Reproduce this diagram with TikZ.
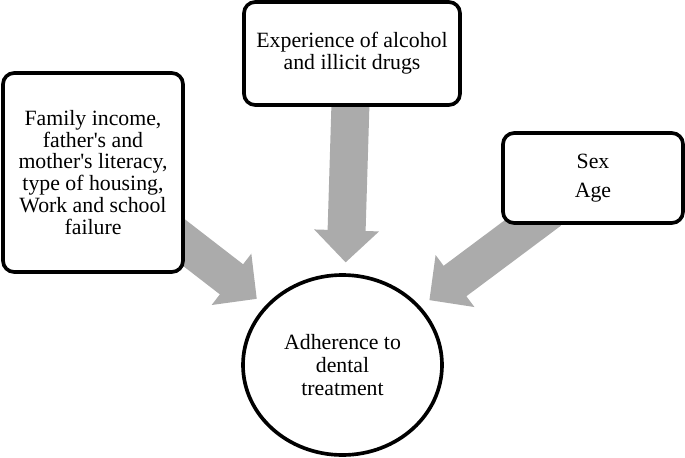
\documentclass[tikz,border=0pt]{standalone}
\usepackage{fontspec}
\setmainfont{Liberation Serif}
\usetikzlibrary{arrows.meta,shapes.geometric,backgrounds}
\definecolor{arrowgray}{RGB}{171,171,171}
\begin{document}
\begin{tikzpicture}[
  factor/.style={draw,rectangle,rounded corners=0.28cm,line width=2.6pt,fill=white,align=center,font=\fontsize{15.5}{15.6}\selectfont},
  outcome/.style={draw,ellipse,line width=2.6pt,fill=white,align=center,inner sep=0pt,font=\fontsize{15.5}{16.6}\selectfont},
  bigarrow/.style={draw=arrowgray,line width=0.95cm,-{Triangle[width=1.575cm,length=0.8cm]},shorten <=-0.6cm,shorten >=0.27cm}]
\useasboundingbox (0,0) rectangle (17.125,11.425);
\node[factor,minimum width=4.5cm,minimum height=4.975cm] (FAM) at (2.325,7.1125) {Family income,\\father\textquotesingle s and\\mother\textquotesingle s literacy,\\type of housing,\\Work and school\\failure};
\node[factor,minimum width=5.4cm,minimum height=2.575cm] (DRUG) at (8.8,10.0875) {Experience of alcohol\\and illicit drugs};
\node[factor,minimum width=4.5cm,minimum height=2.25cm] (SEX) at (14.825,6.975) {Sex\\[5pt]Age};
\node[outcome,minimum width=4.975cm,minimum height=4.5cm] (ADH) at (8.5625,2.3) {Adherence to\\dental\\treatment};
\begin{pgfonlayer}{background}
\draw[bigarrow] (FAM) -- (ADH);
\draw[bigarrow] (DRUG) -- (ADH);
\draw[bigarrow] (SEX) -- (ADH);
\end{pgfonlayer}
\end{tikzpicture}
\end{document}
